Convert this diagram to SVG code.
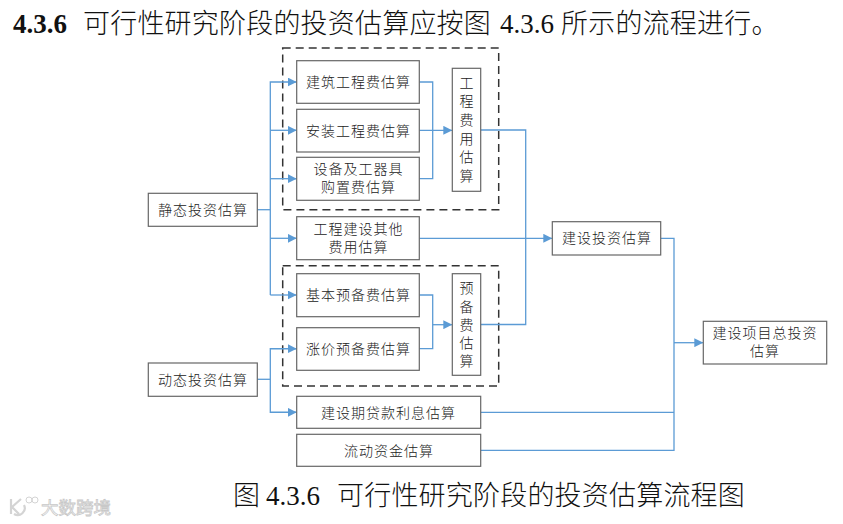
<svg xmlns="http://www.w3.org/2000/svg" width="843" height="524" viewBox="0 0 843 524">
<style>
.n{fill:#fff;stroke:#666;stroke-width:1.2}
.d{fill:none;stroke:#333;stroke-width:1.5;stroke-dasharray:8 5}
.c{fill:none;stroke:#5b9bd5;stroke-width:1.3}
.t{font-family:"Noto Sans CJK SC","Noto Sans CJK JP",sans-serif;font-size:14px;font-weight:300;fill:#222;text-anchor:middle;letter-spacing:1px}
.h{font-family:"Noto Sans CJK SC","Noto Sans CJK JP",sans-serif;font-size:27px;font-weight:300;fill:#111;letter-spacing:.2px}
.l{font-family:"Liberation Serif","Noto Sans CJK SC",serif;font-size:27px;fill:#111}
.w{font-family:"Noto Sans CJK SC","Noto Sans CJK JP",sans-serif;font-size:17.5px;fill:#fff;stroke:#c8c8c8;stroke-width:.8}
</style>
<defs>
<marker id="a" markerUnits="userSpaceOnUse" markerWidth="9" markerHeight="9" refX="9" refY="4.5" orient="auto"><path d="M0 0L9 4.5L0 9Z" fill="#5b9bd5"/></marker>
</defs>
<rect width="843" height="524" fill="#fff"/>
<g id="heading">
<text class="l" x="13" y="33" font-weight="bold">4.3.6</text>
<text class="h" x="83" y="33">可行性研究阶段的投资估算应按图</text>
<text class="l" x="500" y="33">4.3.6</text>
<text class="h" x="561" y="33">所示的流程进行。</text>
</g>
<g id="dashed-frames">
<rect class="d" x="282.7" y="48" width="216" height="161.7"/>
<rect class="d" x="282.7" y="265.7" width="216" height="120.3"/>
</g>
<g id="connectors">
<path class="c" d="M257.3 209.7H270.3"/>
<path class="c" d="M270.3 295V82H296.7" marker-end="url(#a)"/>
<path class="c" d="M270.3 130.3H296.7" marker-end="url(#a)"/>
<path class="c" d="M270.3 178.7H296.7" marker-end="url(#a)"/>
<path class="c" d="M270.3 238.3H296.7" marker-end="url(#a)"/>
<path class="c" d="M270.3 295H296.7" marker-end="url(#a)"/>
<path class="c" d="M419.3 82H432.7V178.7H419.3"/>
<path class="c" d="M419.3 130.3H452.3" marker-end="url(#a)"/>
<path class="c" d="M419.3 295H432.7V348.7H419.3"/>
<path class="c" d="M432.7 324.7H452.3" marker-end="url(#a)"/>
<path class="c" d="M257.3 379.3H270.3"/>
<path class="c" d="M296.7 348.7H270.3V412.3H296.7"/>
<path class="c" d="M270.3 348.7H296.7" marker-end="url(#a)"/>
<path class="c" d="M270.3 412.3H296.7" marker-end="url(#a)"/>
<path class="c" d="M480.7 130H525.7V324.5H480.7"/>
<path class="c" d="M419.3 238.3H552.3" marker-end="url(#a)"/>
<path class="c" d="M660.7 238.3H674V450.3H480.7"/>
<path class="c" d="M480.7 412.3H674"/>
<path class="c" d="M674 342.7H703.3" marker-end="url(#a)"/>
</g>
<g id="n-static"><rect class="n" x="148.3" y="193.3" width="109" height="33"/><text class="t" x="203" y="215">静态投资估算</text></g>
<g id="n-dynamic"><rect class="n" x="148.3" y="363" width="109" height="33.3"/><text class="t" x="203" y="384.5">动态投资估算</text></g>
<g id="n-jz"><rect class="n" x="296.7" y="60.7" width="122.6" height="42.6"/><text class="t" x="358.5" y="87">建筑工程费估算</text></g>
<g id="n-az"><rect class="n" x="296.7" y="109.3" width="122.6" height="42.7"/><text class="t" x="358.5" y="135.5">安装工程费估算</text></g>
<g id="n-sb"><rect class="n" x="296.7" y="157.3" width="122.6" height="43"/><text class="t" y="174"><tspan x="358.5">设备及工器具</tspan><tspan x="358.5" dy="18">购置费估算</tspan></text></g>
<g id="n-qt"><rect class="n" x="296.7" y="216.7" width="122.6" height="43"/><text class="t" y="234"><tspan x="358.5">工程建设其他</tspan><tspan x="358.5" dy="18">费用估算</tspan></text></g>
<g id="n-gc"><rect class="n" x="452.3" y="68.3" width="28.4" height="123"/><text class="t" y="88"><tspan x="467">工</tspan><tspan x="467" dy="18">程</tspan><tspan x="467" dy="19">费</tspan><tspan x="467" dy="18.5">用</tspan><tspan x="467" dy="18.5">估</tspan><tspan x="467" dy="18.5">算</tspan></text></g>
<g id="n-jb"><rect class="n" x="296.7" y="273.7" width="122.6" height="43"/><text class="t" x="358.5" y="300">基本预备费估算</text></g>
<g id="n-zj"><rect class="n" x="296.7" y="327.7" width="122.6" height="42.6"/><text class="t" x="358.5" y="353.5">涨价预备费估算</text></g>
<g id="n-yb"><rect class="n" x="452.3" y="273.7" width="28.4" height="101.6"/><text class="t" y="293"><tspan x="467">预</tspan><tspan x="467" dy="19">备</tspan><tspan x="467" dy="18">费</tspan><tspan x="467" dy="18">估</tspan><tspan x="467" dy="18">算</tspan></text></g>
<g id="n-dk"><rect class="n" x="296.7" y="396.3" width="184" height="32"/><text class="t" x="388.5" y="417.5">建设期贷款利息估算</text></g>
<g id="n-ld"><rect class="n" x="296.7" y="434.3" width="184" height="32"/><text class="t" x="389" y="455.5">流动资金估算</text></g>
<g id="n-tz"><rect class="n" x="552.3" y="221.7" width="108.4" height="33.3"/><text class="t" x="607" y="243">建设投资估算</text></g>
<g id="n-zt"><rect class="n" x="703.3" y="321.3" width="123.4" height="42.7"/><text class="t" y="338"><tspan x="765">建设项目总投资</tspan><tspan x="765" dy="18">估算</tspan></text></g>
<g id="caption">
<text class="h" x="233" y="505">图</text>
<text class="l" x="266" y="505">4.3.6</text>
<text class="h" x="337" y="505">可行性研究阶段的投资估算流程图</text>
</g>
<g id="watermark">
<path d="M11 499V514M21 499L12 507L19 514M24 505A7 7 0 0 1 14 514" fill="none" stroke="#d4d4d4" stroke-width="2.2"/>
<circle cx="29" cy="500" r="3" fill="none" stroke="#d4d4d4"/><circle cx="35" cy="500" r="3" fill="none" stroke="#d4d4d4"/>
<text class="w" x="41" y="513.5">大数跨境</text>
</g>
</svg>
